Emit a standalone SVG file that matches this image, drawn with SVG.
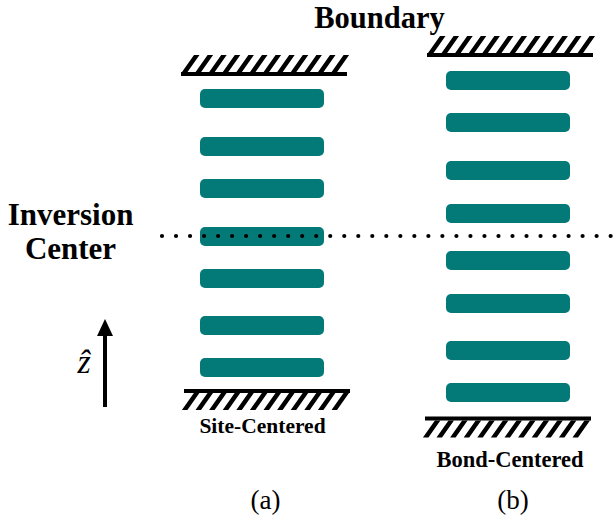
<svg xmlns="http://www.w3.org/2000/svg" width="613" height="524" viewBox="0 0 613 524">
<style>
.bar{fill:#037a77}
.lbl{font-family:"Liberation Serif","Times New Roman",serif;font-weight:bold;fill:#000}
.cap{font-family:"Liberation Serif","Times New Roman",serif;fill:#000}
.dots{stroke:#000;stroke-width:4.2;stroke-linecap:round;stroke-dasharray:0 14.02;fill:none}
</style>
<defs>
<g id="wall">
<rect x="0" y="17" width="166" height="4" fill="#000"/>
<path fill="#000" d="M1,17L6.5,17L18.5,0L13,0Z M14.6,17L20.1,17L32.1,0L26.6,0Z M28.2,17L33.7,17L45.7,0L40.2,0Z M41.8,17L47.3,17L59.3,0L53.8,0Z M55.4,17L60.9,17L72.9,0L67.4,0Z M69,17L74.5,17L86.5,0L81,0Z M82.6,17L88.1,17L100.1,0L94.6,0Z M96.2,17L101.7,17L113.7,0L108.2,0Z M109.8,17L115.3,17L127.3,0L121.8,0Z M123.4,17L128.9,17L140.9,0L135.4,0Z M137,17L142.5,17L154.5,0L149,0Z M150.6,17L156.1,17L168.1,0L162.6,0Z"/>
</g>
</defs>
<rect width="613" height="524" fill="#fff"/>
<g id="boundary-label"><text class="lbl" x="379.5" y="28" font-size="30.5" text-anchor="middle">Boundary</text></g>
<g id="inversion-label"><text class="lbl" x="70.5" y="224.5" font-size="31" text-anchor="middle">Inversion</text><text class="lbl" x="70.5" y="258.5" font-size="31" text-anchor="middle">Center</text></g>
<g id="site-centered">
<use href="#wall" transform="translate(181,55)"/>
<rect class="bar" x="200" y="89" width="124" height="19" rx="5"/>
<rect class="bar" x="200" y="137" width="124" height="19" rx="5"/>
<rect class="bar" x="200" y="179" width="124" height="19" rx="5"/>
<rect class="bar" x="200" y="227" width="124" height="19" rx="5"/>
<rect class="bar" x="200" y="269" width="124" height="19" rx="5"/>
<rect class="bar" x="200" y="316" width="124" height="19" rx="5"/>
<rect class="bar" x="200" y="358" width="124" height="19" rx="5"/>
<use href="#wall" transform="translate(350,410) rotate(180)"/>
<text class="lbl" x="262.5" y="433" font-size="21.5" text-anchor="middle">Site-Centered</text>
<text class="cap" x="265.5" y="509" font-size="27" text-anchor="middle">(a)</text>
</g>
<g id="bond-centered">
<use href="#wall" transform="translate(427,36)"/>
<rect class="bar" x="446" y="71" width="124" height="19" rx="5"/>
<rect class="bar" x="446" y="113" width="124" height="19" rx="5"/>
<rect class="bar" x="446" y="161" width="124" height="19" rx="5"/>
<rect class="bar" x="446" y="204" width="124" height="19" rx="5"/>
<rect class="bar" x="446" y="251" width="124" height="19" rx="5"/>
<rect class="bar" x="446" y="294" width="124" height="19" rx="5"/>
<rect class="bar" x="446" y="341" width="124" height="19" rx="5"/>
<rect class="bar" x="446" y="383" width="124" height="19" rx="5"/>
<use href="#wall" transform="translate(591,437.5) rotate(180)"/>
<text class="lbl" x="510" y="466.5" font-size="22.5" text-anchor="middle">Bond-Centered</text>
<text class="cap" x="513" y="509" font-size="27" text-anchor="middle">(b)</text>
</g>
<g id="z-axis">
<line x1="105" y1="407" x2="105" y2="334" stroke="#000" stroke-width="4"/>
<polygon points="97,336 113,336 105,319" fill="#000"/>
<text class="cap" x="84" y="373" font-size="34" font-style="italic" text-anchor="middle">ẑ</text>
</g>
<g id="connectors">
<line class="dots" x1="162" y1="236" x2="611" y2="236"/>
</g>
</svg>
